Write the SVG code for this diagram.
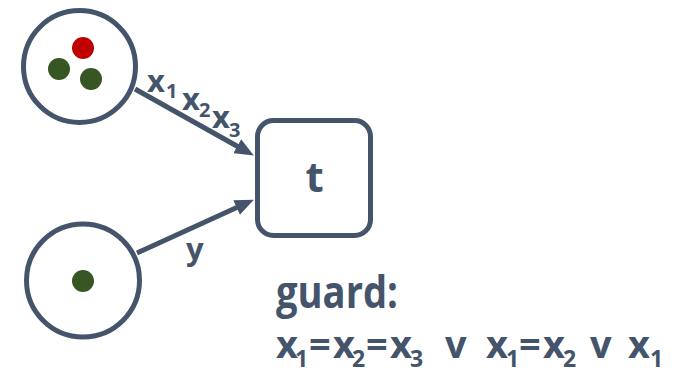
<svg xmlns="http://www.w3.org/2000/svg" width="674" height="370" viewBox="0 0 674 370">
  <style>
    .place { fill: #ffffff; stroke: #44546a; stroke-width: 5; }
    .trans { fill: #ffffff; stroke: #44546a; stroke-width: 5; }
    .arc { fill: none; stroke: #44546a; stroke-width: 5; marker-end: url(#head); }
    .tok-red { fill: #c00000; }
    .tok-green { fill: #375623; }
    .lbl { font-family: "Open Sans", "Noto Sans", "Liberation Sans", sans-serif; font-weight: bold; fill: #44546a; }
    .sub { font-size: 23px; }
  </style>
  <defs>
    <marker id="head" markerUnits="userSpaceOnUse" markerWidth="20" markerHeight="16" refX="2" refY="8" orient="auto">
      <path d="M0,0 L19,8 L0,16 z" fill="#44546a"/>
    </marker>
  </defs>
  <rect width="674" height="370" fill="#ffffff"/>

  <!-- connectors -->
  <g id="arcs">
    <line class="arc" x1="135" y1="89" x2="239" y2="147.2"/>
    <line class="arc" x1="137" y1="253" x2="238.4" y2="206.7"/>
    <text class="lbl" font-size="31"><tspan x="147" y="92">x</tspan><tspan x="166" y="98" font-size="20">1</tspan></text>
    <text class="lbl" font-size="31"><tspan x="182" y="110">x</tspan><tspan x="199" y="117" font-size="20">2</tspan></text>
    <text class="lbl" font-size="31"><tspan x="212" y="128">x</tspan><tspan x="229" y="137" font-size="20">3</tspan></text>
    <text class="lbl" font-size="31" x="186" y="260">y</text>
  </g>

  <!-- input place with three tokens -->
  <g id="place-top">
    <circle class="place" cx="79.5" cy="66.5" r="56"/>
    <circle class="tok-red" cx="83" cy="48" r="11"/>
    <circle class="tok-green" cx="59" cy="69" r="11"/>
    <circle class="tok-green" cx="91" cy="79" r="11"/>
  </g>

  <!-- input place with one token -->
  <g id="place-bottom">
    <circle class="place" cx="83" cy="280.5" r="56.5"/>
    <circle class="tok-green" cx="83" cy="281" r="11"/>
  </g>

  <!-- transition -->
  <g id="transition-t">
    <rect class="trans" x="257.5" y="120.5" width="113" height="115" rx="16"/>
    <text class="lbl" font-size="42" x="314.5" y="192" text-anchor="middle">t</text>
  </g>

  <!-- guard expression -->
  <g id="guard">
    <text class="lbl" font-size="44" x="276" y="308" textLength="122" lengthAdjust="spacingAndGlyphs">guard:</text>
    <text class="lbl" font-size="38"><tspan x="276" y="358">x</tspan><tspan class="sub" x="295" y="367">1</tspan><tspan x="309" y="358">=</tspan><tspan x="333" y="358">x</tspan><tspan class="sub" x="352" y="367">2</tspan><tspan x="366" y="358">=</tspan><tspan x="390" y="358">x</tspan><tspan class="sub" x="410" y="367">3</tspan><tspan x="445" y="358">v</tspan><tspan x="486" y="358">x</tspan><tspan class="sub" x="506" y="367">1</tspan><tspan x="519" y="358">=</tspan><tspan x="543" y="358">x</tspan><tspan class="sub" x="563" y="367">2</tspan><tspan x="590" y="358">v</tspan><tspan x="628" y="358">x</tspan><tspan class="sub" x="650" y="367">1</tspan></text>
  </g>
</svg>
